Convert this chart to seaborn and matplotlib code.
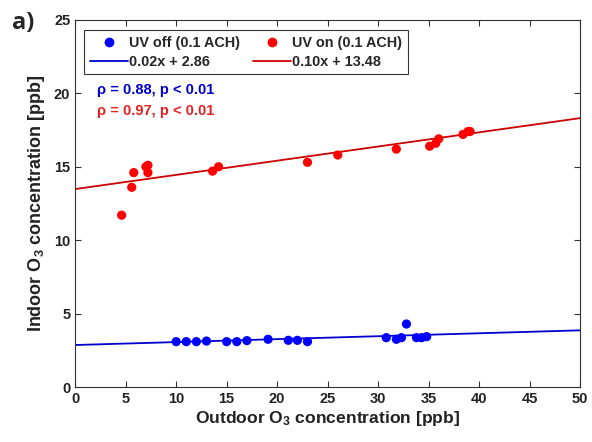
import numpy as np
import pandas as pd
import matplotlib
matplotlib.use("Agg")
import matplotlib.pyplot as plt
from matplotlib.lines import Line2D
import seaborn as sns

# ---- data ----
uv_off_x = [10.0, 11.0, 12.0, 13.0, 15.0, 16.0, 17.0, 19.1, 21.1, 22.0, 23.0,
            30.8, 31.8, 32.3, 32.8, 33.8, 34.3, 34.8]
uv_off_y = [3.09, 3.09, 3.09, 3.13, 3.09, 3.09, 3.16, 3.25, 3.18, 3.18, 3.09,
            3.36, 3.25, 3.36, 4.29, 3.36, 3.36, 3.43]
uv_on_x = [4.6, 5.6, 5.8, 7.0, 7.2, 7.2, 13.6, 14.2, 23.0, 26.0, 31.8,
           35.1, 35.7, 36.0, 38.4, 38.9, 39.1]
uv_on_y = [11.7, 13.6, 14.6, 15.0, 15.1, 14.6, 14.7, 15.0, 15.3, 15.8, 16.2,
           16.4, 16.6, 16.9, 17.2, 17.4, 17.4]
fit_slopes = [0.02, 0.0966]
fit_intercepts = [2.86, 13.48]
fit_labels = ["0.02x + 2.86", "0.10x + 13.48"]
series_labels = ["UV off (0.1 ACH)", "UV on (0.1 ACH)"]
stats_labels = ["\u03c1 = 0.88, p < 0.01", "\u03c1 = 0.97, p < 0.01"]
x_ticks = [0, 5, 10, 15, 20, 25, 30, 35, 40, 45, 50]
y_ticks = [0, 5, 10, 15, 20, 25]

colors = ["#0000ff", "#ff0000"]
line_colors = ["#0000cc", "#cc0000"]

sns.set_style("ticks")
plt.rcParams["font.family"] = ["Liberation Sans", "DejaVu Sans"]
plt.rcParams["font.weight"] = "bold"
plt.rcParams["mathtext.fontset"] = "custom"
plt.rcParams["mathtext.rm"] = "Liberation Sans:bold"
plt.rcParams["mathtext.bf"] = "Liberation Sans:bold"
plt.rcParams["mathtext.it"] = "Liberation Sans:bold"

fig = plt.figure(figsize=(5.92, 4.42), dpi=100)
ax = fig.add_axes([0.127, 0.1244, 0.853, 0.8306])

df = pd.concat([
    pd.DataFrame({"x": uv_off_x, "y": uv_off_y, "s": series_labels[0]}),
    pd.DataFrame({"x": uv_on_x, "y": uv_on_y, "s": series_labels[1]}),
])

xl = np.array([x_ticks[0], x_ticks[-1]], dtype=float)
for m, b, c in zip(fit_slopes, fit_intercepts, line_colors):
    ax.plot(xl, m * xl + b, color=c, lw=1.3, zorder=2)

sns.scatterplot(data=df, x="x", y="y", hue="s", palette=colors, s=44,
                edgecolor="none", ax=ax, legend=False, zorder=3)

ax.set_xlim(x_ticks[0], x_ticks[-1])
ax.set_ylim(y_ticks[0], y_ticks[-1])
ax.set_xticks(x_ticks)
ax.set_yticks(y_ticks)
ax.tick_params(direction="in", top=True, right=True, labelsize=10.5, length=4,
               width=0.8, color="#333333", labelcolor="#222222")
for lab in ax.get_xticklabels() + ax.get_yticklabels():
    lab.set_fontweight("bold")
for sp in ax.spines.values():
    sp.set_linewidth(0.8)
    sp.set_color("#333333")

ax.set_xlabel("Outdoor O$_{3}$ concentration [ppb]", fontsize=12.6, fontweight="bold",
              labelpad=2, color="#222222")
ax.set_ylabel("Indoor O$_{3}$ concentration [ppb]", fontsize=13, fontweight="bold",
              labelpad=5, color="#222222")

handles = [
    Line2D([], [], marker="o", ls="none", color=colors[0], markersize=6),
    Line2D([], [], color=line_colors[0], lw=1.3),
    Line2D([], [], marker="o", ls="none", color=colors[1], markersize=6),
    Line2D([], [], color=line_colors[1], lw=1.3),
]
labels = [series_labels[0], fit_labels[0], series_labels[1], fit_labels[1]]
leg = ax.legend(handles, labels, ncol=2, loc="upper left",
                bbox_to_anchor=(0.018, 0.973), borderaxespad=0, frameon=True,
                fancybox=False, edgecolor="#333333", framealpha=1,
                prop={"size": 10.4, "weight": "bold"},
                handlelength=2.6, handletextpad=0.1, columnspacing=0.9,
                labelspacing=0.35, borderpad=0.4)
leg.get_frame().set_linewidth(0.8)

ax.text(0.043, 0.81, stats_labels[0], transform=ax.transAxes, color=line_colors[0],
        fontsize=10.5, fontweight="bold", va="center")
ax.text(0.043, 0.753, stats_labels[1], transform=ax.transAxes, color="#e52020",
        fontsize=10.5, fontweight="bold", va="center")

fig.text(0.02, 0.947, "a)", fontsize=17, fontweight="bold", va="center",
         family=["Open Sans", "DejaVu Sans"])

fig.savefig("out.png", dpi=100)
